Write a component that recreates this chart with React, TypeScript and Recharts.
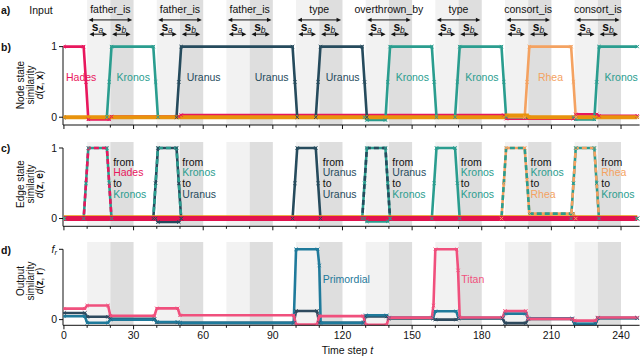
import React from 'react';
import { ComposedChart, Line, Scatter, XAxis, YAxis, ReferenceArea, ReferenceLine } from 'recharts';

const FONT = '"Liberation Sans", Arial, Helvetica, sans-serif';

// input tokens and the time step at which each one starts (s_a = first 10 steps, s_b = next 10)
const inputWords = ['father_is', 'father_is', 'father_is', 'type', 'overthrown_by', 'type', 'consort_is', 'consort_is'];
const inputStarts = [10, 40, 70, 100, 130, 160, 190, 220];
const timeTicks = [0, 10, 20, 30, 40, 50, 60, 70, 80, 90, 100, 110, 120, 130, 140, 150, 160, 170, 180, 190, 200, 210, 220, 230, 240];

type Pt = { t: number; v: number };
const pts = (rows: number[][]): Pt[] => rows.map(([t, v]) => ({ t, v }));

// b) node state similarity (breakpoints [t, value])
const nodeHades = pts([[0, 1], [8.5, 1], [9.5, 0.5], [10.5, -0.03], [19.5, -0.03], [20.5, 0.01], [49.5, 0.01], [50.5, 0.03], [189.5, 0.03], [190.5, -0.02], [219.5, -0.02], [220.5, 0.04], [229.5, 0.04], [230.5, 0.02], [247, 0.02]]);
const nodeKronos = pts([[0, 0], [18.5, 0], [19.5, 0.5], [20.5, 1], [38.5, 1], [39.5, 0.5], [40.5, 0], [129.5, 0], [130.5, -0.04], [138.5, -0.04], [139.5, 0.5], [140.5, 1], [158.5, 1], [159.5, 0.5], [160.5, 0], [168.5, 0], [169.5, 0.5], [170.5, 1], [188.5, 1], [189.5, 0.5], [190.5, 0], [219.5, 0], [220.5, -0.03], [228.5, -0.03], [229.5, 0.5], [230.5, 1], [247, 1]]);
const nodeUranus = pts([[0, 0], [48.5, 0], [49.5, 0.5], [50.5, 1], [98.5, 1], [99.5, 0.5], [100.5, 0], [108.5, 0], [109.5, 0.5], [110.5, 1], [128.5, 1], [129.5, 0.5], [130.5, 0], [247, 0]]);
const nodeRhea = pts([[0, 0], [198.5, 0], [199.5, 0.5], [200.5, 1], [218.5, 1], [219.5, 0.5], [220.5, 0], [247, 0]]);
const nodeOther = pts([[0, 0], [189.5, 0], [190.5, 0.025], [199.5, 0.025], [200.5, 0], [247, 0]]);

// c) edge state similarity
const edgeHadesKronos = pts([[0, 0], [8.5, 0], [9.5, 0.5], [10.5, 1], [18.5, 1], [19.5, 0.5], [20.5, 0], [247, 0]]);
const edgeKronosUranus = pts([[0, 0], [38.5, 0], [39.5, 0.5], [40.5, 1], [48.5, 1], [49.5, 0.5], [50.5, 0], [247, 0]]);
const edgeUranusUranus = pts([[0, 0], [39.5, 0], [40.5, -0.05], [49.5, -0.05], [50.5, 0], [98.5, 0], [99.5, 0.5], [100.5, 1], [108.5, 1], [109.5, 0.5], [110.5, 0], [247, 0]]);
const edgeUranusKronos = pts([[0, 0], [128.5, 0], [129.5, 0.5], [130.5, 1], [138.5, 1], [139.5, 0.5], [140.5, 0], [247, 0]]);
const edgeKronosKronos = pts([[0, 0], [129.5, 0], [130.5, -0.04], [139.5, -0.04], [140.5, 0], [158.5, 0], [159.5, 0.5], [160.5, 1], [168.5, 1], [169.5, 0.5], [170.5, 0], [247, 0]]);
const edgeKronosRhea = pts([[0, 0], [188.5, 0], [189.5, 0.5], [190.5, 1], [198.5, 1], [199.5, 0.55], [200.5, 0.07], [219.5, 0.07], [220.5, 0], [247, 0]]);
const edgeRheaKronos = pts([[0, 0], [218.5, 0], [219.5, 0.5], [220.5, 1], [228.5, 1], [229.5, 0.5], [230.5, 0], [247, 0]]);
const edgeOther = pts([[0, 0.035], [247, 0.035]]);
const edgeRest = pts([[0, 0], [247, 0]]);

// d) output similarity (f_r = 1)
const outDark = pts([[0, 0.094], [9, 0.094], [10, 0.04], [19, 0.04], [20, 0.01], [39, 0.01], [40, -0.04], [49, -0.04], [50, -0.047], [99, -0.047], [100, 0.123], [109, 0.123], [110, -0.047], [129, -0.047], [130, 0.045], [139, 0.045], [140, 0.015], [159, 0.015], [160, 0], [169, 0], [170, 0.015], [189, 0.015], [190, -0.05], [199, -0.05], [200, 0.01], [219, 0.01], [220, -0.065], [229, -0.065], [230, 0.02], [247, 0.02]]);
const outPrimordial = pts([[0, 0.047], [9, 0.047], [10, -0.045], [19, -0.045], [20, 0], [39, 0], [40, -0.035], [49, -0.035], [50, -0.047], [99, -0.047], [100, 1], [109.3, 1], [110, 0.77], [110.6, -0.047], [129, -0.047], [130, 0.061], [139, 0.061], [140, 0.028], [159, 0.028], [160, 0.118], [169, 0.118], [170, 0.025], [189, 0.025], [190, 0.085], [199, 0.085], [200, 0.018], [219, 0.018], [220, -0.06], [229, -0.06], [230, 0.025], [247, 0.025]]);
const outTitan = pts([[0, 0.156], [9, 0.156], [10, 0.2], [19, 0.2], [20, 0.055], [39, 0.055], [40, 0.16], [49, 0.16], [50, 0.061], [99, 0.061], [100, -0.07], [109, -0.07], [110, 0.05], [129, 0.05], [130, -0.075], [139, -0.075], [140, 0.028], [158.5, 0.028], [159.2, 0.2], [160, 1], [169.2, 1], [169.8, 0.7], [170.5, 0.03], [189, 0.03], [190, 0.123], [199, 0.123], [200, 0.01], [219, 0.01], [220, -0.015], [229, -0.015], [230, 0.03], [247, 0.03]]);

// in-plot labels
const nodeLabels = [
  { t: 0.9, v: 0.57, name: 'Hades' },
  { t: 22.7, v: 0.57, name: 'Kronos' },
  { t: 52.9, v: 0.57, name: 'Uranus' },
  { t: 82.2, v: 0.57, name: 'Uranus' },
  { t: 112.8, v: 0.57, name: 'Uranus' },
  { t: 142.9, v: 0.57, name: 'Kronos' },
  { t: 172.9, v: 0.57, name: 'Kronos' },
  { t: 204.2, v: 0.57, name: 'Rhea' },
  { t: 232.9, v: 0.57, name: 'Kronos' },
];
const edgeLabels = [
  { t: 21.2, v: 0.8, from: 'Hades', to: 'Kronos' },
  { t: 51, v: 0.8, from: 'Kronos', to: 'Uranus' },
  { t: 111.5, v: 0.8, from: 'Uranus', to: 'Uranus' },
  { t: 141.5, v: 0.8, from: 'Uranus', to: 'Kronos' },
  { t: 171, v: 0.8, from: 'Kronos', to: 'Kronos' },
  { t: 201, v: 0.8, from: 'Kronos', to: 'Rhea' },
  { t: 231.5, v: 0.8, from: 'Rhea', to: 'Kronos' },
];
const outLabels = [
  { t: 111.5, v: 0.58, name: 'Primordial' },
  { t: 171.2, v: 0.58, name: 'Titan' },
];

const COLORS: Record<string, string> = {
  Hades: '#E8175D',
  Kronos: '#2A9D8F',
  Uranus: '#264B5D',
  Rhea: '#F4A261',
  other: '#E8930C',
  crimson: '#E2134F',
  Titan: '#F0507D',
  Primordial: '#1F7A9B',
  outDark: '#2E4A5E',
};

const edgeSeries = [
  { from: 'Hades', to: 'Kronos', data: edgeHadesKronos },
  { from: 'Kronos', to: 'Uranus', data: edgeKronosUranus },
  { from: 'Uranus', to: 'Uranus', data: edgeUranusUranus },
  { from: 'Uranus', to: 'Kronos', data: edgeUranusKronos },
  { from: 'Kronos', to: 'Kronos', data: edgeKronosKronos },
  { from: 'Kronos', to: 'Rhea', data: edgeKronosRhea },
  { from: 'Rhea', to: 'Kronos', data: edgeRheaKronos },
];

const X_DOMAIN: [number, number] = [-0.4, 248];
const MARGIN = { top: 0, right: 0.4, bottom: 0, left: 0 };
const INK = '#111';
const LONG_Y = 1.378;
const SHORT_Y = 1.176;

const crossDot = (color: string, s = 1.7) => (p: any) => {
  const { cx, cy, index } = p;
  if (cx == null || cy == null) return <g key={`n${index}`} />;
  return (
    <path
      key={`d${index}`}
      d={`M${cx - s},${cy - s}L${cx + s},${cy + s}M${cx - s},${cy + s}L${cx + s},${cy - s}`}
      stroke={color}
      strokeWidth={1}
      fill="none"
    />
  );
};

const series = (key: string, data: Pt[], color: string, width = 2.6, dash?: string, dots = true) => (
  <Line
    key={key}
    data={data}
    dataKey="v"
    type="linear"
    stroke={color}
    strokeWidth={width}
    strokeDasharray={dash}
    dot={dots ? crossDot(color) : false}
    activeDot={false}
    isAnimationActive={false}
  />
);

const TimeTick = (p: any) => {
  const { x, y, payload, labelled } = p;
  const major = payload.value % 30 === 0;
  return (
    <g>
      <line x1={x} x2={x} y1={y} y2={y + (major ? 4 : 2.5)} stroke={INK} strokeWidth={1} />
      {labelled && major && (
        <text x={x} y={y + 14} textAnchor="middle" fontSize={10.5} fill={INK} fontFamily={FONT}>
          {payload.value}
        </text>
      )}
    </g>
  );
};

const OutTick = (p: any) => {
  const { x, y, payload } = p;
  if (payload.value === 1) {
    return (
      <text x={x} y={y + 3.7} textAnchor="end" fontSize={10.5} fill={INK} fontFamily={FONT}>
        <tspan fontStyle="italic">f</tspan>
        <tspan fontSize={7.5} fontStyle="italic" dy={2}>r</tspan>
      </text>
    );
  }
  return (
    <text x={x} y={y + 3.7} textAnchor="end" fontSize={10.5} fill={INK} fontFamily={FONT}>
      {payload.value}
    </text>
  );
};

const bands = () =>
  inputStarts.flatMap((s, i) => [
    <ReferenceArea key={`sa${i}`} x1={s} x2={s + 10} fill="#F2F2F2" fillOpacity={1} stroke="none" />,
    <ReferenceArea key={`sb${i}`} x1={s + 10} x2={s + 20} fill="#DEDEDE" fillOpacity={1} stroke="none" />,
  ]);

const Arrow = ({ x1, y1, x2, kind, word }: any) => {
  if (x1 == null) return null;
  const h = 4.5;
  const w = 2.2;
  const mid = (x1 + x2) / 2;
  return (
    <g>
      <line x1={x1 + h - 1} y1={y1} x2={x2 - h + 1} y2={y1} stroke={INK} strokeWidth={1} />
      <path d={`M${x1},${y1}L${x1 + h},${y1 - w}L${x1 + h},${y1 + w}Z`} fill={INK} />
      <path d={`M${x2},${y1}L${x2 - h},${y1 - w}L${x2 - h},${y1 + w}Z`} fill={INK} />
      {kind === 'word' ? (
        <text x={mid} y={y1 - 6.5} textAnchor="middle" fontSize={10.5} fill={INK} fontFamily={FONT}>
          {word}
        </text>
      ) : (
        <text x={mid - 0.8} y={y1 - 3.2} textAnchor="middle" fontSize={12} fill={INK} fontFamily={FONT}>
          <tspan fontWeight="bold">s</tspan>
          <tspan fontSize={8.5} fontStyle="italic" dy={2}>{kind}</tspan>
        </text>
      )}
    </g>
  );
};

const header = () =>
  inputStarts.flatMap((s, i) => [
    <ReferenceLine
      key={`hw${i}`}
      segment={[{ x: s + 0.6, y: LONG_Y }, { x: s + 19.4, y: LONG_Y }]}
      ifOverflow="visible"
      shape={(p: any) => <Arrow {...p} kind="word" word={inputWords[i]} />}
    />,
    <ReferenceLine
      key={`ha${i}`}
      segment={[{ x: s + 1, y: SHORT_Y }, { x: s + 8.6, y: SHORT_Y }]}
      ifOverflow="visible"
      shape={(p: any) => <Arrow {...p} kind="a" />}
    />,
    <ReferenceLine
      key={`hb${i}`}
      segment={[{ x: s + 10.8, y: SHORT_Y }, { x: s + 18.7, y: SHORT_Y }]}
      ifOverflow="visible"
      shape={(p: any) => <Arrow {...p} kind="b" />}
    />,
  ]);

const spine = (lo: number) => (
  <ReferenceLine
    key="spine"
    segment={[{ x: X_DOMAIN[0], y: lo }, { x: X_DOMAIN[0], y: 1 }]}
    stroke={INK}
    strokeWidth={1}
    ifOverflow="visible"
  />
);

const xAxis = (height: number, labelled: boolean) => (
  <XAxis
    dataKey="t"
    type="number"
    domain={X_DOMAIN}
    ticks={timeTicks}
    interval={0}
    allowDataOverflow
    height={height}
    tickLine={false}
    tickSize={0}
    tickMargin={0}
    axisLine={{ stroke: INK, strokeWidth: 1 }}
    tick={(p: any) => <TimeTick {...p} labelled={labelled} />}
  />
);

const yAxis = (domain: [number, number], tick?: any) => (
  <YAxis
    type="number"
    domain={domain}
    ticks={[0, 1]}
    allowDataOverflow
    width={63}
    axisLine={false}
    tickSize={4}
    tickMargin={2}
    tickLine={{ stroke: INK, strokeWidth: 1 }}
    interval={0}
    tick={tick ?? { fill: INK, fontSize: 10.5, fontFamily: FONT }}
  />
);

const NameLabel = (p: any) => {
  const { cx, cy, payload } = p;
  return (
    <text x={cx} y={cy + 3.7} fontSize={10.5} fill={COLORS[payload.name]} fontFamily={FONT}>
      {payload.name}
    </text>
  );
};

const EdgeLabel = (p: any) => {
  const { cx, cy, payload } = p;
  const base = cy + 3.7;
  return (
    <text fontSize={10.5} fontFamily={FONT}>
      <tspan x={cx} y={base} fill={INK}>from</tspan>
      <tspan x={cx} y={base + 10.6} fill={COLORS[payload.from]}>{payload.from}</tspan>
      <tspan x={cx} y={base + 21.2} fill={INK}>to</tspan>
      <tspan x={cx} y={base + 31.8} fill={COLORS[payload.to]}>{payload.to}</tspan>
    </text>
  );
};

const YTitle = ({ cy, first, vec }: { cy: number; first: string; vec: string }) => {
  const rows = [24, 33.5, 43];
  return (
    <g fontSize={10} fill={INK}>
      <text transform={`translate(${rows[0]},${cy}) rotate(-90)`} textAnchor="middle">{first}</text>
      <text transform={`translate(${rows[1]},${cy}) rotate(-90)`} textAnchor="middle">similarity</text>
      <text transform={`translate(${rows[2]},${cy}) rotate(-90)`} textAnchor="middle">
        <tspan fontStyle="italic">d</tspan>
        {'('}
        <tspan fontWeight="bold">z</tspan>
        {', '}
        <tspan fontWeight="bold">{vec}</tspan>
        {')'}
      </text>
    </g>
  );
};

export default function App() {
  return (
    <div style={{ position: 'absolute', left: 0, top: 0, width: 640, height: 357, background: '#fff', fontFamily: FONT, overflow: 'hidden' }}>
      {/* b) node state similarity */}
      <div style={{ position: 'absolute', left: 0, top: 0 }}>
        <ComposedChart width={640} height={130} margin={MARGIN}>
          {bands()}
          {xAxis(5, false)}
          {yAxis([-0.11, 1.66])}
          {header()}
          {spine(-0.11)}
          {series('hades', nodeHades, COLORS.Hades)}
          {series('kronos', nodeKronos, COLORS.Kronos)}
          {series('uranus', nodeUranus, COLORS.Uranus)}
          {series('rhea', nodeRhea, COLORS.Rhea)}
          {series('other', nodeOther, COLORS.other, 4)}
          <Scatter data={nodeLabels} dataKey="v" shape={NameLabel} isAnimationActive={false} />
        </ComposedChart>
      </div>

      {/* c) edge state similarity */}
      <div style={{ position: 'absolute', left: 0, top: 141.7 }}>
        <ComposedChart width={640} height={89.3} margin={MARGIN}>
          {bands()}
          {xAxis(5, false)}
          {yAxis([-0.11, 1.085])}
          {spine(-0.11)}
          {edgeSeries.flatMap((e, i) => {
            const out = [series(`e${i}`, e.data, COLORS[e.to])];
            if (e.from !== e.to) out.push(series(`e${i}d`, e.data, COLORS[e.from], 2.6, '5 3', false));
            return out;
          })}
          {series('eOther', edgeOther, COLORS.other, 1.6, undefined, false)}
          {series('eRest', edgeRest, COLORS.crimson, 5, undefined, false)}
          <Scatter data={edgeLabels} dataKey="v" shape={EdgeLabel} isAnimationActive={false} />
        </ComposedChart>
      </div>

      {/* d) output similarity */}
      <div style={{ position: 'absolute', left: 0, top: 241.7 }}>
        <ComposedChart width={640} height={115.3} margin={MARGIN}>
          {bands()}
          {xAxis(32, true)}
          {yAxis([-0.081, 1.104], (p: any) => <OutTick {...p} />)}
          {spine(-0.081)}
          {series('oDark', outDark, COLORS.outDark)}
          {series('oPrim', outPrimordial, COLORS.Primordial)}
          {series('oTitan', outTitan, COLORS.Titan)}
          <Scatter data={outLabels} dataKey="v" shape={NameLabel} isAnimationActive={false} />
        </ComposedChart>
      </div>

      {/* panel letters, row titles and axis titles */}
      <svg width={640} height={357} style={{ position: 'absolute', left: 0, top: 0, pointerEvents: 'none' }} fontFamily={FONT}>
        <text x={1} y={13.5} fontSize={10.5} fontWeight="bold" fill={INK}>a)</text>
        <text x={29.3} y={13.8} fontSize={10.5} fill={INK}>Input</text>
        <text x={1} y={50.5} fontSize={10.5} fontWeight="bold" fill={INK}>b)</text>
        <text x={1} y={152} fontSize={10.5} fontWeight="bold" fill={INK}>c)</text>
        <text x={1} y={254} fontSize={10.5} fontWeight="bold" fill={INK}>d)</text>
        <YTitle cy={85} first="Node state" vec="x" />
        <YTitle cy={184} first="Edge state" vec="e" />
        <YTitle cy={281} first="Output" vec="r" />
        <text x={347.5} y={353.5} fontSize={10.5} fill={INK} textAnchor="middle">
          Time step <tspan fontStyle="italic">t</tspan>
        </text>
      </svg>
    </div>
  );
}
